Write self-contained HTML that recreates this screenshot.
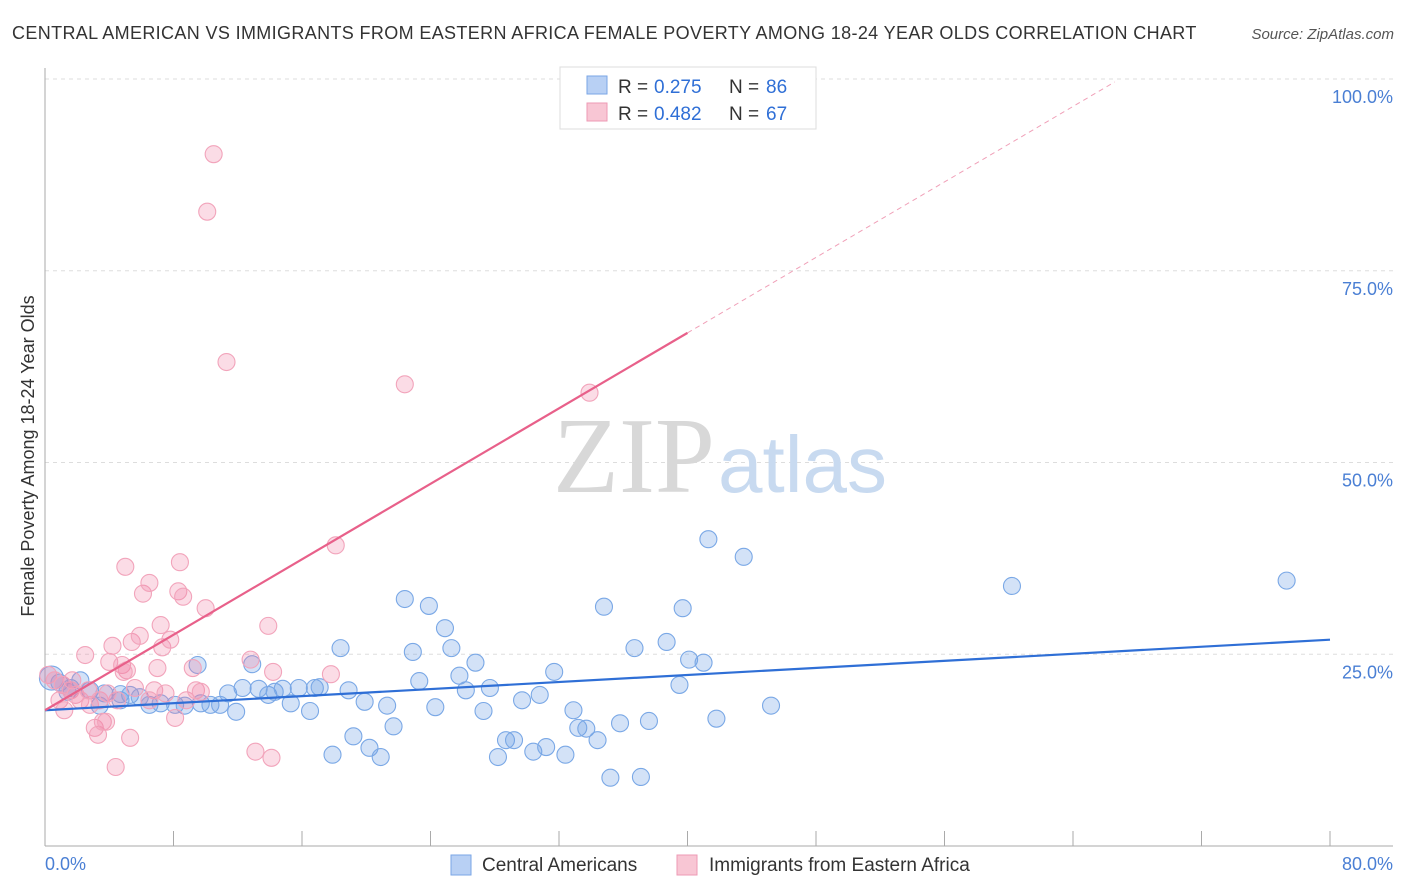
<!DOCTYPE html>
<html><head><meta charset="utf-8"><style>
body{margin:0;background:#fff;font-family:"Liberation Sans",sans-serif}
#c{position:absolute;left:0;top:0}
</style></head><body>
<svg id="c" width="1406" height="892">
<text x="12" y="39" font-size="18" fill="#333" letter-spacing="0.36">CENTRAL AMERICAN VS IMMIGRANTS FROM EASTERN AFRICA FEMALE POVERTY AMONG 18-24 YEAR OLDS CORRELATION CHART</text>
<text x="1394" y="39" font-size="15" fill="#555" font-style="italic" text-anchor="end">Source: ZipAtlas.com</text>
<g id="grid"></g>
<text x="553" y="492" font-size="108" fill="#d8d8d8" font-family="Liberation Serif,serif">ZIP</text>
<text x="718" y="492" font-size="80" fill="#c8daf0">atlas</text>
<g id="pts"></g>
<g id="lines"></g>
<text x="34" y="456" font-size="18" fill="#333" text-anchor="middle" transform="rotate(-90 34 456)">Female Poverty Among 18-24 Year Olds</text>
<text x="45" y="870" font-size="18" fill="#4a7fd4">0.0%</text>
<text x="1393" y="870" font-size="18" fill="#4a7fd4" text-anchor="end">80.0%</text>
<g>
<rect x="560" y="67" width="256" height="62" fill="#fff" stroke="#ddd"/>
<rect x="587" y="76" width="20" height="18" fill="#b8d0f4" stroke="#7aa6e6"/>
<rect x="587" y="103" width="20" height="18" fill="#f8c6d4" stroke="#ee9ab4"/>
<text x="618" y="93" font-size="19" fill="#333">R = </text><text x="654" y="93" font-size="19" fill="#2f6fd6">0.275</text>
<text x="729" y="93" font-size="19" fill="#333">N = </text><text x="766" y="93" font-size="19" fill="#2f6fd6">86</text>
<text x="618" y="120" font-size="19" fill="#333">R = </text><text x="654" y="120" font-size="19" fill="#2f6fd6">0.482</text>
<text x="729" y="120" font-size="19" fill="#333">N = </text><text x="766" y="120" font-size="19" fill="#2f6fd6">67</text>
</g>
<g>
<rect x="451" y="855" width="20" height="20" fill="#b8d0f4" stroke="#7aa6e6"/>
<text x="482" y="871" font-size="19" fill="#333">Central Americans</text>
<rect x="677" y="855" width="20" height="20" fill="#f8c6d4" stroke="#ee9ab4"/>
<text x="709" y="871" font-size="19" fill="#333">Immigrants from Eastern Africa</text>
</g>
</svg>
<script>
const yTicks=[25,50,75,100];
const yTickLabels=["25.0%","50.0%","75.0%","100.0%"];
const xTicks=[0,8,16,24,32,40,48,56,64,72,80];
const blueX=[0.4,0.9,1.6,2.8,3.7,4.7,5.3,5.9,6.5,7.2,8.1,8.7,9.5,9.7,10.3,10.9,11.4,11.9,12.3,12.9,13.3,13.9,14.3,14.8,15.3,15.8,16.5,16.8,17.1,17.9,18.4,18.9,19.2,19.9,20.2,20.9,21.3,21.7,22.4,22.9,23.3,23.9,24.3,24.9,25.3,25.8,26.2,26.8,27.3,27.7,28.2,28.7,29.2,29.7,30.4,30.8,31.2,31.7,32.4,32.9,33.2,33.7,34.4,34.8,35.2,35.8,36.7,37.1,37.6,38.7,39.5,39.7,40.1,41.0,41.3,41.8,43.5,45.2,60.2,77.3,3.4,2.2,4.7,1.4];
const blueY=[21.9,21.3,20.6,20.3,19.9,19.8,19.7,19.4,18.4,18.6,18.4,18.3,23.6,18.6,18.4,18.4,19.9,17.5,20.6,23.7,20.5,19.7,20.1,20.5,18.6,20.6,17.6,20.6,20.7,11.9,25.8,20.3,14.3,18.8,12.8,11.6,18.3,15.6,32.2,25.3,21.5,31.3,18.1,28.4,25.8,22.2,20.3,23.9,17.6,20.6,11.6,13.8,13.8,19.0,12.3,19.7,12.9,22.7,11.9,17.7,15.4,15.3,13.8,31.2,8.9,16.0,25.8,9.0,16.3,26.6,21.0,31.0,24.3,23.9,40.0,16.6,37.7,18.3,33.9,34.6,18.3,21.6,19.0,20.1];
const pinkX=[0.2,0.6,1.1,1.6,1.9,2.2,2.5,2.8,3.1,3.3,3.6,3.8,4.0,4.2,4.4,4.5,4.8,5.0,5.1,5.3,5.4,5.6,5.9,6.1,6.5,6.8,7.0,7.2,7.3,7.5,7.8,8.1,8.3,8.4,8.6,8.8,9.2,9.4,9.7,10.0,10.1,10.5,11.3,12.8,13.1,13.9,14.1,14.2,17.8,18.1,22.4,33.9,0.9,1.2,1.7,2.7,3.4,3.9,4.9,6.5];
const pinkY=[22.3,21.6,21.0,20.3,19.7,19.0,24.9,18.4,15.4,14.5,16.2,16.2,24.0,26.1,10.3,19.0,23.6,36.4,22.9,14.1,26.6,20.6,27.4,32.9,34.3,20.3,23.2,28.8,25.9,19.9,26.9,16.7,33.2,37.0,32.5,19.0,23.2,20.3,20.1,31.0,82.7,90.2,63.1,24.3,12.3,28.7,11.5,22.7,22.4,39.2,60.2,59.1,19.0,17.7,21.6,20.3,19.0,19.9,22.7,19.0];
const blueTrend=[17.7,26.9];
const pinkTrend=[17.7,66.9];
const pinkTrendDashEnd=66.6;
const NS='http://www.w3.org/2000/svg';
const sx=v=>45+v/80*1285;
const sy=v=>846-v/100*767;
function mk(tag,attrs,parent){const e=document.createElementNS(NS,tag);for(const k in attrs)e.setAttribute(k,attrs[k]);parent.appendChild(e);return e;}
const grid=document.getElementById('grid');
let e=mk('line',{x1:45,y1:sy(100),x2:1393,y2:sy(100),stroke:'#ddd','stroke-dasharray':'4 4'},grid);
yTicks.forEach((t,i)=>{
 const l=mk('line',{x1:45,y1:sy(t),x2:1393,y2:sy(t),stroke:'#ddd','stroke-dasharray':'4 4'},grid);
 
 
 const tx=mk('text',{x:1393,y:sy(t)+24,'font-size':18,fill:'#4a7fd4','text-anchor':'end'},grid);
 tx.textContent=yTickLabels[i];
 
 
});
e=mk('line',{x1:45,y1:68,x2:45,y2:846,stroke:'#aaa'},grid);


e=mk('line',{x1:45,y1:846,x2:1393,y2:846,stroke:'#aaa'},grid);


xTicks.forEach(t=>{
 const l=mk('line',{x1:sx(t),y1:831,x2:sx(t),y2:846,stroke:'#aaa'},grid);
 
 
});
const pts=document.getElementById('pts');
blueX.forEach((x,i)=>{
 const c=mk('circle',{cx:sx(x),cy:sy(blueY[i]),r:i===0?12:8.5,fill:'rgba(110,160,230,0.3)',stroke:'#7aa8e6','stroke-width':1.1},pts);
 
 
});
pinkX.forEach((x,i)=>{
 const c=mk('circle',{cx:sx(x),cy:sy(pinkY[i]),r:8.5,fill:'rgba(240,130,165,0.28)',stroke:'#f2a4bb','stroke-width':1.1},pts);
 
 
});
const lines=document.getElementById('lines');
e=mk('line',{x1:sx(0),y1:sy(blueTrend[0]),x2:sx(80),y2:sy(blueTrend[1]),stroke:'#2f6fd6','stroke-width':2.2},lines);


e=mk('line',{x1:sx(0),y1:sy(pinkTrend[0]),x2:sx(40),y2:sy(pinkTrend[1]),stroke:'#e8608a','stroke-width':2.2},lines);


const slope=(pinkTrend[1]-pinkTrend[0])/40;
e=mk('line',{x1:sx(40),y1:sy(pinkTrend[1]),x2:sx(pinkTrendDashEnd),y2:sy(pinkTrend[0]+slope*pinkTrendDashEnd),stroke:'#f0a0b8','stroke-width':1,'stroke-dasharray':'5 4'},lines);


</script>
</body></html>
